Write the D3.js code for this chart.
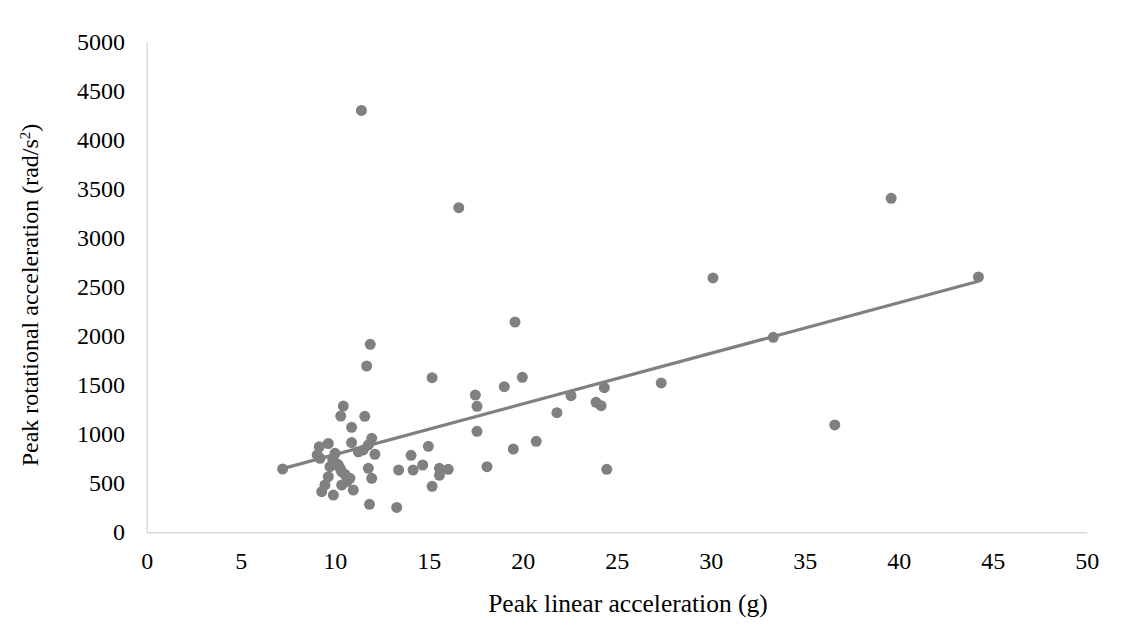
<!DOCTYPE html>
<html><head><meta charset="utf-8">
<script src="https://cdn.jsdelivr.net/npm/d3@7/dist/d3.min.js"></script>
<style>
html,body{margin:0;padding:0;background:#fff;}
</style></head>
<body>
<svg id="chart" width="1126" height="636" font-family="Liberation Serif"></svg>
<script>
// Peak linear acceleration (g)
const linearAcc = [
  11.42, 16.6, 39.6, 44.24, 30.12, 33.33, 36.6, 27.37, 24.34, 23.9, 24.17, 24.47,
  22.57, 21.82, 20.72, 19.5, 19.59, 19.02, 19.98, 17.48, 17.57, 17.57, 18.1,
  15.18, 14.98, 14.06, 14.68, 14.17, 13.4, 15.57, 16.04, 15.57, 15.18, 13.3, 11.85, 7.23,
  11.89, 11.70, 10.46, 10.32, 11.6, 10.9, 10.9, 11.97, 11.79, 12.14, 11.26, 11.52, 11.79, 11.97,
  9.18, 9.66, 9.07, 9.22, 10.02, 9.75, 10.19, 10.37, 9.66, 9.48, 9.31, 9.93, 10.37, 10.64,
  10.99, 10.81, 10.1, 9.9, 10.3, 10.55
];
// Peak rotational acceleration (rad/s²)
const rotationalAcc = [
  4300, 3308, 3404, 2602, 2592, 1987, 1094, 1522, 1474, 1325, 1290, 642,
  1392, 1219, 927, 849, 2143, 1484, 1580, 1399, 1284, 1029, 669,
  1576, 876, 785, 686, 635, 635, 652, 642, 581, 469, 253, 285, 645,
  1916, 1695, 1287, 1185, 1182, 1070, 915, 958, 890, 795, 821, 839, 652, 550,
  872, 905, 788, 754, 805, 669, 686, 618, 567, 482, 414, 380, 482, 516,
  431, 550, 700, 740, 650, 590
];
const xTicks = [0,5,10,15,20,25,30,35,40,45,50];
const yTicks = [0,500,1000,1500,2000,2500,3000,3500,4000,4500,5000];

const FONT = "Liberation Serif";
const FS = 24;
const svg = d3.select("#chart");
const m = {left:146.7, right:1086.7, top:41.7, bottom:532.3};
const x = d3.scaleLinear().domain([0,50]).range([m.left, m.right]);
const y = d3.scaleLinear().domain([0,5000]).range([m.bottom, m.top]);

const axisColor = "#d9d9d9";
const markColor = "#808080";

const xAxis = d3.axisBottom(x).tickValues(xTicks).tickFormat(d3.format("d")).tickSize(0).tickPadding(20);
const gx = svg.append("g").attr("transform",`translate(0,${m.bottom})`).call(xAxis);
gx.attr("font-family",FONT).attr("font-size",FS);
gx.select(".domain").attr("stroke",axisColor).attr("stroke-width",1.4);
gx.selectAll("text").attr("fill","#000");

const yAxis = d3.axisLeft(y).tickValues(yTicks).tickFormat(d3.format("d")).tickSize(0).tickPadding(21.7);
const gy = svg.append("g").attr("transform",`translate(${m.left},0)`).call(yAxis);
gy.attr("font-family",FONT).attr("font-size",FS);
gy.select(".domain").attr("stroke",axisColor).attr("stroke-width",1.4);
gy.selectAll("text").attr("fill","#000");

// linear regression trendline
const data = linearAcc.map((v,i)=>({x:v, y:rotationalAcc[i]}));
const mx = d3.mean(data,d=>d.x), my = d3.mean(data,d=>d.y);
const sxy = d3.sum(data,d=>(d.x-mx)*(d.y-my)), sxx = d3.sum(data,d=>(d.x-mx)**2);
const slope = sxy/sxx, intercept = my - slope*mx;
const [xmin,xmax] = d3.extent(linearAcc);

svg.append("g").selectAll("circle").data(data).join("circle")
  .attr("cx",d=>x(d.x)).attr("cy",d=>y(d.y)).attr("r",5.5).attr("fill",markColor);

svg.append("line")
  .attr("x1",x(xmin)).attr("y1",y(intercept+slope*xmin))
  .attr("x2",x(xmax)).attr("y2",y(intercept+slope*xmax))
  .attr("stroke",markColor).attr("stroke-width",3.2);

svg.append("text").attr("x",628).attr("y",612)
  .attr("text-anchor","middle").attr("font-family",FONT).attr("font-size",25.5).attr("fill","#000")
  .text("Peak linear acceleration (g)");

const yt = svg.append("text").attr("transform",`translate(38,${(m.top+m.bottom)/2 + 8}) rotate(-90)`)
  .attr("text-anchor","middle").attr("font-family",FONT).attr("font-size",FS).attr("fill","#000");
yt.append("tspan").text("Peak rotational acceleration (rad/s");
yt.append("tspan").attr("baseline-shift","super").attr("font-size",15).text("2");
yt.append("tspan").text(")");
</script>
</body></html>
